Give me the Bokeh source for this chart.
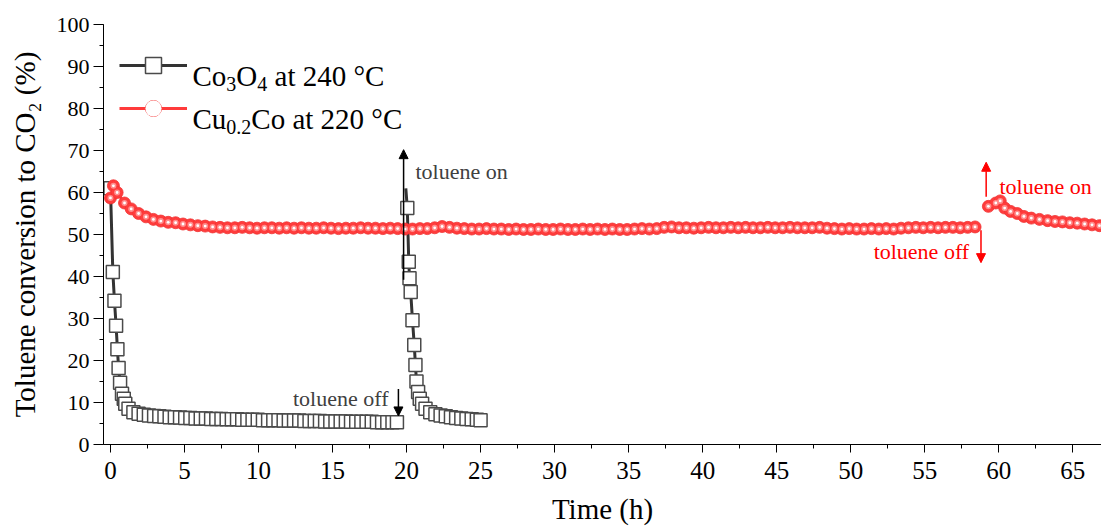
from bokeh.plotting import figure
from bokeh.models import (Range1d, SingleIntervalTicker, Legend, LegendItem,
                          Arrow, NormalHead, Label)
from bokeh.embed import file_html
from bokeh.resources import INLINE

FONT = "Liberation Serif"

# ---------------- data ----------------
# Co3O4 at 240 °C, first run (toluene on at 0 h)
co_time_1 = [0.0, 0.16, 0.27, 0.38, 0.47, 0.55, 0.65, 0.78, 0.9, 1.0, 1.22, 1.55, 1.9,
             2.25, 2.6, 2.95, 3.3, 3.65, 4.0, 4.35, 4.7, 5.05, 5.4,
             5.75, 6.1, 6.45, 6.8, 7.15, 7.5, 7.85, 8.2, 8.55, 8.9,
             9.25, 9.6, 9.95, 10.3, 10.65, 11.0, 11.35, 11.7, 12.05, 12.4,
             12.75, 13.1, 13.45, 13.8, 14.15, 14.5, 14.85, 15.2, 15.55, 15.9,
             16.25, 16.6, 16.95, 17.3, 17.65, 18.0, 18.35, 18.7, 19.05, 19.35]
co_conv_1 = [61.0, 41.1, 34.2, 28.3, 22.7, 18.2, 14.7, 12.1, 10.9, 9.7, 8.5, 7.7, 7.3,
             7.1, 6.9, 6.8, 6.7, 6.6, 6.5, 6.5, 6.4, 6.3, 6.3,
             6.2, 6.2, 6.2, 6.1, 6.1, 6.1, 6.0, 6.0, 6.0, 5.9,
             5.9, 5.9, 5.9, 5.8, 5.8, 5.8, 5.8, 5.7, 5.7, 5.7,
             5.7, 5.6, 5.6, 5.6, 5.6, 5.5, 5.5, 5.5, 5.5, 5.5,
             5.4, 5.4, 5.4, 5.4, 5.4, 5.3, 5.3, 5.3, 5.3, 5.3]
# Co3O4 at 240 °C, second run (toluene on again at ~20 h)
co_time_2 = [19.95, 20.05, 20.15, 20.2, 20.28, 20.4, 20.52, 20.6, 20.67, 20.78,
             20.89, 21.05, 21.28, 21.6, 21.95, 22.3, 22.65, 23.0, 23.35, 23.7,
             24.05, 24.4, 24.75, 25.0]
co_conv_2 = [61.0, 56.3, 43.5, 39.6, 36.3, 29.6, 23.7, 18.9, 15.0, 12.5,
             10.9, 9.7, 8.5, 7.7, 7.2, 6.9, 6.7, 6.5, 6.3, 6.2,
             6.1, 6.0, 5.9, 5.8]
# the peak of the second run is drawn by the line only (no marker visible there)
co2_first_marked = 1

cu_time_1 = [0.0, 0.2, 0.45, 0.95, 1.4, 1.9, 2.4, 2.9, 3.4, 3.9, 4.4, 4.9, 5.4, 5.9, 6.4, 6.9,
             7.4, 7.9, 8.4, 8.9, 9.4, 9.9, 10.4, 10.9, 11.4, 11.9,
             12.4, 12.9, 13.4, 13.9, 14.4, 14.9, 15.4, 15.9, 16.4, 16.9,
             17.4, 17.9, 18.4, 18.9, 19.4, 19.9, 20.4, 20.9, 21.4, 21.9,
             22.4, 22.9, 23.4, 23.9, 24.4, 24.9, 25.4, 25.9, 26.4, 26.9,
             27.4, 27.9, 28.4, 28.9, 29.4, 29.9, 30.4, 30.9, 31.4, 31.9,
             32.4, 32.9, 33.4, 33.9, 34.4, 34.9, 35.4, 35.9, 36.4, 36.9,
             37.4, 37.9, 38.4, 38.9, 39.4, 39.9, 40.4, 40.9, 41.4, 41.9,
             42.4, 42.9, 43.4, 43.9, 44.4, 44.9, 45.4, 45.9, 46.4, 46.9,
             47.4, 47.9, 48.4, 48.9, 49.4, 49.9, 50.4, 50.9, 51.4, 51.9,
             52.4, 52.9, 53.4, 53.9, 54.4, 54.9, 55.4, 55.9, 56.4, 56.9,
             57.4, 57.9, 58.4]
cu_conv_1 = [58.7, 61.6, 60.0, 57.5, 56.1, 55.0, 54.2, 53.6, 53.2, 52.9, 52.8, 52.5, 52.3, 52.1, 52.0, 51.8,
             51.7, 51.6, 51.6, 51.7, 51.6, 51.5, 51.6, 51.6, 51.5, 51.6,
             51.5, 51.6, 51.5, 51.5, 51.6, 51.5, 51.4, 51.5, 51.5, 51.6,
             51.5, 51.5, 51.4, 51.5, 51.4, 51.3, 51.3, 51.4, 51.4, 51.6,
             51.9, 51.7, 51.5, 51.4, 51.3, 51.3, 51.4, 51.3, 51.3, 51.2,
             51.3, 51.2, 51.2, 51.3, 51.2, 51.2, 51.3, 51.2, 51.2, 51.3,
             51.2, 51.3, 51.2, 51.3, 51.2, 51.2, 51.3, 51.4, 51.3, 51.4,
             51.7, 51.8, 51.6, 51.6, 51.5, 51.6, 51.7, 51.6, 51.6, 51.7,
             51.6, 51.7, 51.6, 51.6, 51.7, 51.6, 51.6, 51.7, 51.6, 51.6,
             51.6, 51.7, 51.5, 51.4, 51.3, 51.4, 51.3, 51.3, 51.4, 51.3,
             51.4, 51.3, 51.5, 51.6, 51.7, 51.6, 51.7, 51.6, 51.7, 51.7,
             51.6, 51.7, 51.8]
cu_time_2 = [59.3, 59.8, 60.1, 60.4, 60.8, 61.25, 61.7, 62.2, 62.75, 63.3, 63.8, 64.3,
             64.8, 65.3, 65.8, 66.3, 66.8, 67.3]
cu_conv_2 = [56.7, 57.5, 58.0, 56.3, 55.5, 55.0, 54.3, 53.9, 53.6, 53.3, 53.1, 53.0,
             52.8, 52.7, 52.5, 52.3, 52.1, 52.0]

x_ticks_interval = 5
y_ticks_interval = 10
# legend labels as (text, is_subscript) runs
legend_runs = [
    [("Co", False), ("3", True), ("O", False), ("4", True), (" at 240 °C", False)],
    [("Cu", False), ("0.2", True), ("Co at 220 °C", False)],
]

assert len(co_time_1) == len(co_conv_1)
assert len(co_time_2) == len(co_conv_2)
assert len(cu_time_1) == len(cu_conv_1)
assert len(cu_time_2) == len(cu_conv_2)

# ---------------- figure ----------------
p = figure(width=1101, height=527, output_backend="svg", toolbar_location=None,
           x_range=Range1d(-0.47, 66.94), y_range=Range1d(0, 100),
           min_border_left=103, min_border_top=24, min_border_bottom=81,
           min_border_right=0)
p.outline_line_color = None
p.grid.visible = False
p.background_fill_color = "white"
p.border_fill_color = "white"

BLACK = "#333333"
RED = "#ff3b3b"

co_line = p.line(co_time_1, co_conv_1, line_color=BLACK, line_width=3)
p.line(co_time_2, co_conv_2, line_color=BLACK, line_width=3)
co_mt = co_time_1 + co_time_2[co2_first_marked:]
co_mv = co_conv_1 + co_conv_2[co2_first_marked:]
co_sq = p.scatter(co_mt, co_mv, marker="square", size=13, fill_color="white",
                  line_color="#4a4a4a", line_width=1.5)

cu_line1 = p.line(cu_time_1, cu_conv_1, line_color=RED, line_width=3)
cu_line2 = p.line(cu_time_2, cu_conv_2, line_color=RED, line_width=3)
cu_t = cu_time_1 + cu_time_2
cu_v = cu_conv_1 + cu_conv_2
cu_c1 = p.scatter(cu_t, cu_v, marker="circle", size=12, fill_color="#ff3c3c",
                  line_color="#f03232", line_width=0.8)
cu_c2 = p.scatter(cu_t, cu_v, marker="circle", size=6, fill_color="#ff8c8c",
                  line_color=None)
cu_c3 = p.scatter(cu_t, cu_v, marker="circle", size=2.8, fill_color="#ffffff",
                  line_color=None)

# ---------------- axes ----------------
xa = p.xaxis[0]
xa.ticker = SingleIntervalTicker(interval=x_ticks_interval, num_minor_ticks=2)
ya = p.yaxis[0]
ya.ticker = SingleIntervalTicker(interval=y_ticks_interval, num_minor_ticks=2)

for ax in (xa, ya):
    ax.axis_line_color = "black"
    ax.major_tick_line_color = "black"
    ax.minor_tick_line_color = "black"
    ax.major_tick_in = 0
    ax.minor_tick_in = 0
    ax.major_label_text_font = FONT
    ax.major_label_text_color = "black"
    ax.axis_label_text_font = FONT
    ax.axis_label_text_font_style = "normal"
    ax.axis_label_text_color = "black"
    ax.axis_label_text_font_size = "29px"

xa.major_tick_out = 8
xa.minor_tick_out = 4
xa.major_label_text_font_size = "25px"
xa.major_label_standoff = 9
xa.axis_label = "Time (h)"
xa.axis_label_standoff = 11

ya.major_tick_out = 10
ya.minor_tick_out = 4
ya.major_label_text_font_size = "22px"
ya.major_label_standoff = 4
ya.axis_label = "Toluene conversion to CO₂ (%)"
ya.axis_label_standoff = 13

# ---------------- legend (glyphs by Legend, text as runs with subscripts) ----------------
legend = Legend(items=[LegendItem(label=" ", renderers=[co_line, co_sq]),
                       LegendItem(label=" ", renderers=[cu_line1, cu_c1, cu_c2, cu_c3])],
                location=(16, 316), glyph_width=68, glyph_height=40, label_height=40,
                label_standoff=5, spacing=3, padding=0, margin=0,
                border_line_color=None, background_fill_alpha=0,
                label_text_font=FONT, label_text_font_size="10px",
                label_text_color="black")
p.add_layout(legend, "center")

# Times / Liberation Serif advance widths (em units)
ADV = {" ": 0.25, "C": 0.667, "o": 0.5, "u": 0.5, "O": 0.722, "a": 0.444, "t": 0.278,
       ".": 0.25, "°": 0.4}
for d in "0123456789":
    ADV[d] = 0.5

MAIN_PX = 29
SUB_PX = 20
legend_text_x = 89             # frame-relative, px
legend_baselines = [369, 326]  # frame-relative (from bottom), px
SUB_DROP = 8

def text_width(s, size):
    return sum(ADV.get(c, 0.5) for c in s) * size

for runs, base in zip(legend_runs, legend_baselines):
    x = legend_text_x
    for txt, sub in runs:
        size = SUB_PX if sub else MAIN_PX
        stripped = txt.lstrip(" ")
        x += text_width(txt[:len(txt) - len(stripped)], size)
        p.add_layout(Label(x=x, y=base - (SUB_DROP if sub else 0), x_units="screen",
                           y_units="screen", text=stripped, text_font=FONT,
                           text_font_size=f"{size}px", text_color="black",
                           text_align="left", text_baseline="alphabetic"))
        x += text_width(stripped, size)

# ---------------- annotations ----------------
ANN = "#404040"
p.add_layout(Arrow(x_start=19.8, y_start=39.2, x_end=19.8, y_end=70.2,
                   line_color="black", line_width=1.5,
                   end=NormalHead(size=9, fill_color="black", line_color="black")))
p.add_layout(Arrow(x_start=19.45, y_start=13.2, x_end=19.45, y_end=6.8,
                   line_color="black", line_width=1.5,
                   end=NormalHead(size=9, fill_color="black", line_color="black")))
p.add_layout(Label(x=20.6, y=64.9, text="toluene on", text_font=FONT,
                   text_font_size="22px", text_color=ANN,
                   text_align="left", text_baseline="middle"))
p.add_layout(Label(x=18.78, y=10.9, text="toluene off", text_font=FONT,
                   text_font_size="22px", text_color=ANN,
                   text_align="right", text_baseline="middle"))

p.add_layout(Arrow(x_start=59.15, y_start=59.0, x_end=59.15, y_end=67.2,
                   line_color="red", line_width=1.5,
                   end=NormalHead(size=9, fill_color="red", line_color="red")))
p.add_layout(Arrow(x_start=58.8, y_start=51.0, x_end=58.8, y_end=43.3,
                   line_color="red", line_width=1.5,
                   end=NormalHead(size=9, fill_color="red", line_color="red")))
p.add_layout(Label(x=60.05, y=61.4, text="toluene on", text_font=FONT,
                   text_font_size="22px", text_color="red",
                   text_align="left", text_baseline="middle"))
p.add_layout(Label(x=58.0, y=46.0, text="toluene off", text_font=FONT,
                   text_font_size="22px", text_color="red",
                   text_align="right", text_baseline="middle"))

open("out.html", "w").write(file_html(p, INLINE))
